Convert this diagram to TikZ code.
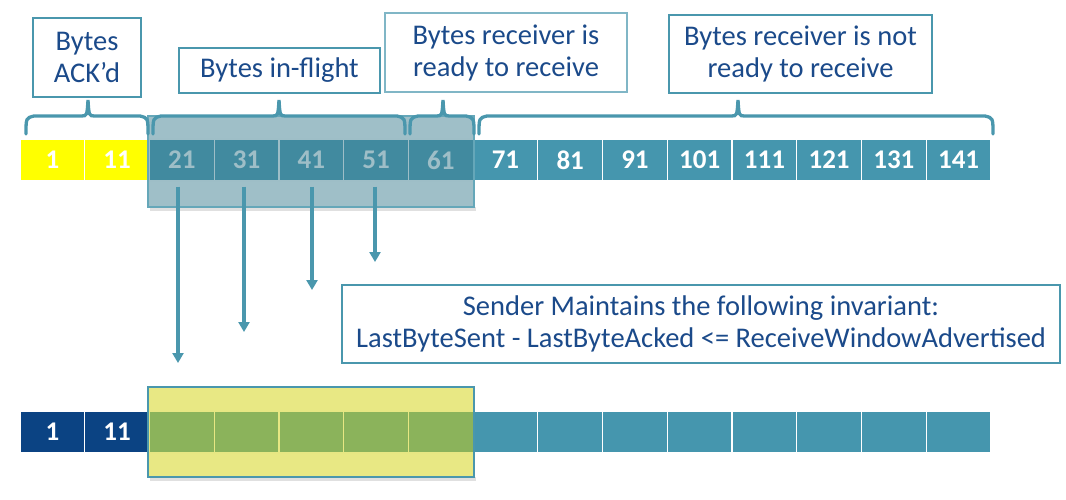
\documentclass[tikz,border=0pt]{standalone}
\usepackage{fontspec}
\setmainfont{Carlito}
\usetikzlibrary{arrows.meta}
\definecolor{tealc}{HTML}{4596AE}
\definecolor{navyc}{HTML}{0B4383}
\definecolor{txtc}{HTML}{1B4A8A}
\definecolor{linec}{HTML}{4A97AD}
\definecolor{ovlc}{HTML}{3F7F91}
\definecolor{yovc}{HTML}{D1D109}
\definecolor{ylwc}{HTML}{FFFF00}
\newcommand{\BraceAt}[3]{%
  \draw[brace line] (#1,134) .. controls (#1,118) .. (#1+8,116) -- (#2-7,116)
    .. controls (#2-1,116) .. (#2,100) .. controls (#2+1,116) .. (#2+7,116)
    -- (#3-8,116) .. controls (#3,118) .. (#3,134);}
\begin{document}
\begin{tikzpicture}[x=1pt,y=-1pt,
  cell/.style={minimum width=64.73pt, minimum height=42pt, inner sep=0pt,
    draw=white, line width=1.2pt, text=white,
    font=\bfseries\fontsize{27}{27}\selectfont},
  label box/.style={draw=linec, line width=1.2pt, fill=white, text=txtc,
    align=center, inner sep=0pt, font=\fontsize{28.5}{32}\selectfont},
  brace line/.style={draw=linec, line width=3.3pt, line cap=round},
  flow/.style={draw=linec, line width=3.3pt, -{Triangle[width=11pt,length=10pt]}},
  shade box/.style={inner sep=0pt, line width=1.2pt},
]
\useasboundingbox (0,0) rectangle (1066,499);

% top row of cells
\foreach \i/\n in {1/1,2/11,3/21,4/31,5/41,6/51,7/61,8/71,9/81,10/91,11/101,12/111,13/121,14/131,15/141}{
  \ifnum\i<3
    \node[cell, fill=ylwc] (t\i) at ({20+(\i-0.5)*64.73},160) {\n};
  \else
    \node[cell, fill=tealc] (t\i) at ({20+(\i-0.5)*64.73},160) {\n};
  \fi
}
% bottom row of cells
\foreach \i in {1,...,15}{
  \ifnum\i<3
    \node[cell, fill=navyc] (b\i) at ({20+(\i-0.5)*64.73},432)
      {\ifnum\i=1 1\else 11\fi};
  \else
    \node[cell, fill=tealc] (b\i) at ({20+(\i-0.5)*64.73},432) {};
  \fi
}

% shadows of the overlays
\fill[black, opacity=0.12] (150,207) rectangle (476,211);
\fill[black, opacity=0.12] (150,477) rectangle (476,481);

% in-flight overlay
\node[shade box, draw=linec!85, fill=ovlc, fill opacity=0.5,
  minimum width=326pt, minimum height=91pt] (inflight) at (311,161.5) {};
% highlighted overlay below
\node[shade box, draw=linec, fill=yovc, fill opacity=0.5,
  minimum width=326pt, minimum height=90pt] (window) at (311,432) {};

% braces
\BraceAt{26}{88}{148}
\BraceAt{153}{279}{405}
\BraceAt{410}{443}{474}
\BraceAt{479}{738}{993}

% label boxes
\node[label box, minimum width=108pt, minimum height=79pt] (ack) at (87,57.5) {Bytes\\ACK’d};
\node[label box, minimum width=201pt, minimum height=45pt] (flight) at (279.5,70.5) {Bytes in-flight};
\node[label box, draw=linec!70, minimum width=242pt, minimum height=79pt] (ready) at (506,52.5) {Bytes receiver is\\ready to receive};
\node[label box, minimum width=263pt, minimum height=78pt] (notready) at (800.5,54) {Bytes receiver is not\\ready to receive};
\node[label box, minimum width=718pt, minimum height=78pt] (inv) at (701,324)
  {Sender Maintains the following invariant:\\LastByteSent - LastByteAcked <= ReceiveWindowAdvertised};

% arrows
\coordinate (e1) at (178,363);
\coordinate (e2) at (244,332);
\coordinate (e3) at (312,290);
\coordinate (e4) at (375,262);
\draw[flow, shorten <=5pt] (t3.south -| e1) -- (e1);
\draw[flow, shorten <=5pt] (t4.south -| e2) -- (e2);
\draw[flow, shorten <=5pt] (t5.south -| e3) -- (e3);
\draw[flow, shorten <=5pt] (t6.south -| e4) -- (e4);
\end{tikzpicture}
\end{document}
